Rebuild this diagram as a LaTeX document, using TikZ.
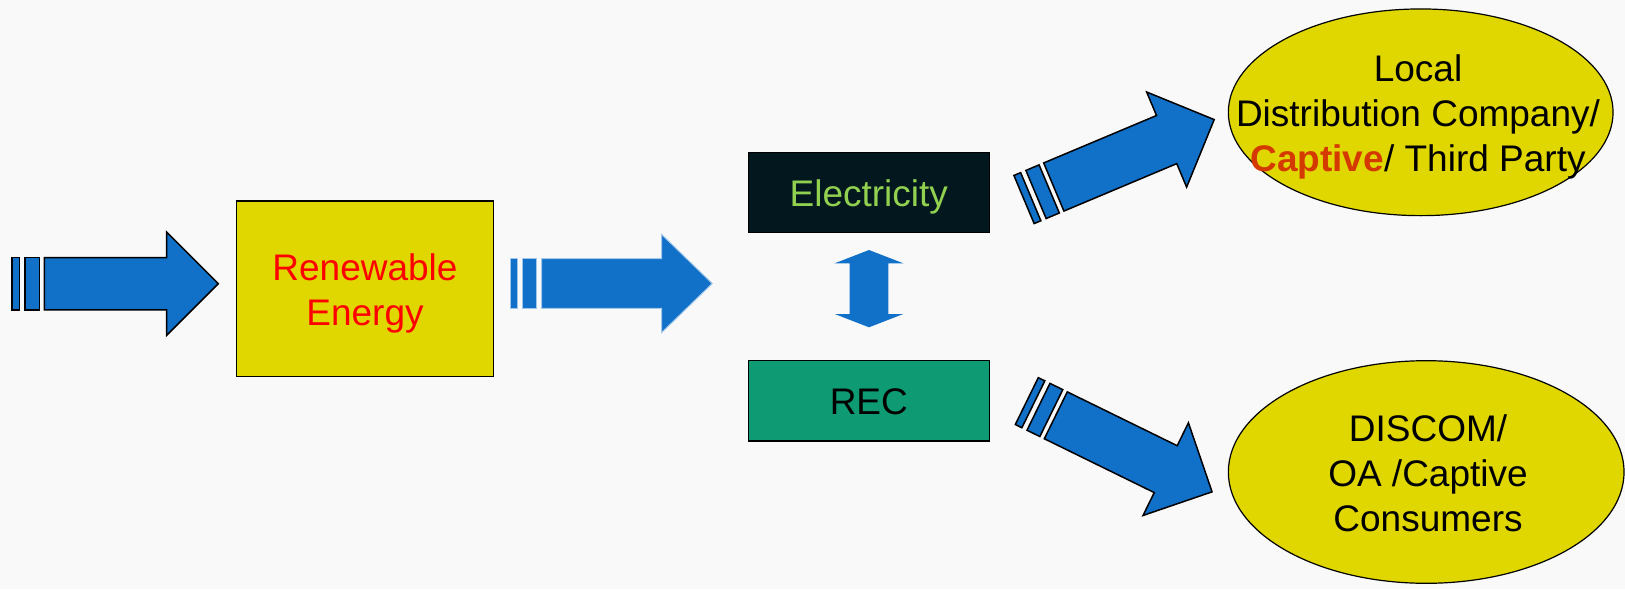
\documentclass[tikz,border=0pt]{standalone}
\usepackage{fontspec}
\setmainfont{Liberation Sans}
\usetikzlibrary{shapes.geometric}
\definecolor{ablue}{RGB}{17,112,200}
\definecolor{yel}{RGB}{224,214,0}
\definecolor{elecfill}{RGB}{2,24,30}
\definecolor{electext}{RGB}{146,208,80}
\definecolor{recfill}{RGB}{14,154,114}
\definecolor{captive}{RGB}{212,58,0}
\definecolor{bg}{RGB}{249,249,249}
\tikzset{
  bigtext/.style={font=\fontsize{37}{45}\selectfont, align=center},
  box/.style={draw=black, line width=1.5pt, rectangle, inner sep=0pt, bigtext},
  oval/.style={ellipse, draw=black, line width=1.2pt, fill=yel, inner sep=0pt},
  arrowline/.style={fill=ablue, draw=black, line width=1.5pt, line join=miter},
  arrowplain/.style={fill=ablue, draw=ablue!40, line width=1pt},
  sarrow/.pic={
    \path[pic actions] (-32.3,-26.1) rectangle (-25,26.1);
    \path[pic actions] (-19.3,-26.1) rectangle (-5,26.1);
    \path[pic actions] (0,-26.1) -- (122.4,-26.1) -- (122.4,-51.6) -- (174,0)
      -- (122.4,51.6) -- (122.4,26.1) -- (0,26.1) -- cycle;
  }
}
\begin{document}
\begin{tikzpicture}[x=1pt,y=-1pt]
\fill[bg] (0,0) rectangle (1625,589);
\useasboundingbox (0,0) rectangle (1625,589);

% boxes
\node[box, fill=yel, text=red, minimum width=256.6pt, minimum height=175.7pt,
      text height=72.3pt, text depth=0pt] (re) at (365,288.85) {Renewable\\Energy};
\node[box, fill=elecfill, text=electext, minimum width=241pt, minimum height=80pt,
      text height=26.6pt, text depth=0pt] (elec) at (868.8,192.7) {Electricity};
\node[box, fill=recfill, text=black, minimum width=241pt, minimum height=80.3pt,
      text height=26.5pt, text depth=0pt] (rec) at (868.8,400.85) {REC};

% ellipses
\node[oval, minimum width=384.7pt, minimum height=206.7pt] (ldc) at (1420.7,112.3) {};
\node[oval, minimum width=395.7pt, minimum height=222.6pt] (dis) at (1426.2,472) {};
\node[bigtext, inner sep=0pt, text height=125.6pt, text depth=0pt] (ldct) at (1418,108.9)
  {Local\\Distribution Company/\\{\bfseries\color{captive}Captive}/ Third Party};
\node[bigtext, inner sep=0pt, text height=119.4pt, text depth=0pt] (dist) at (1428,472)
  {DISCOM/\\OA /Captive\\Consumers};

% block arrows
\coordinate (a1) at (44.3,283.7);
\coordinate (a2) at (541.7,283.5);
\coordinate (a3) at (1053.8,187);
\coordinate (a4) at (1055.8,415.3);
\pic[arrowline] at (a1) {sarrow};
\pic[arrowplain, xscale=0.98, yscale=0.95] at (a2) {sarrow};
\pic[arrowline, rotate=22.8] at (a3) {sarrow};
\pic[arrowline, rotate=-26.1] at (a4) {sarrow};

% double arrow between Electricity and REC
\fill[ablue] (869,250) -- (903.3,263.3) -- (888.3,263.3) -- (888.3,314) -- (903.3,314)
  -- (869,327.3) -- (834.7,314) -- (849.7,314) -- (849.7,263.3) -- (834.7,263.3) -- cycle;
\end{tikzpicture}
\end{document}
